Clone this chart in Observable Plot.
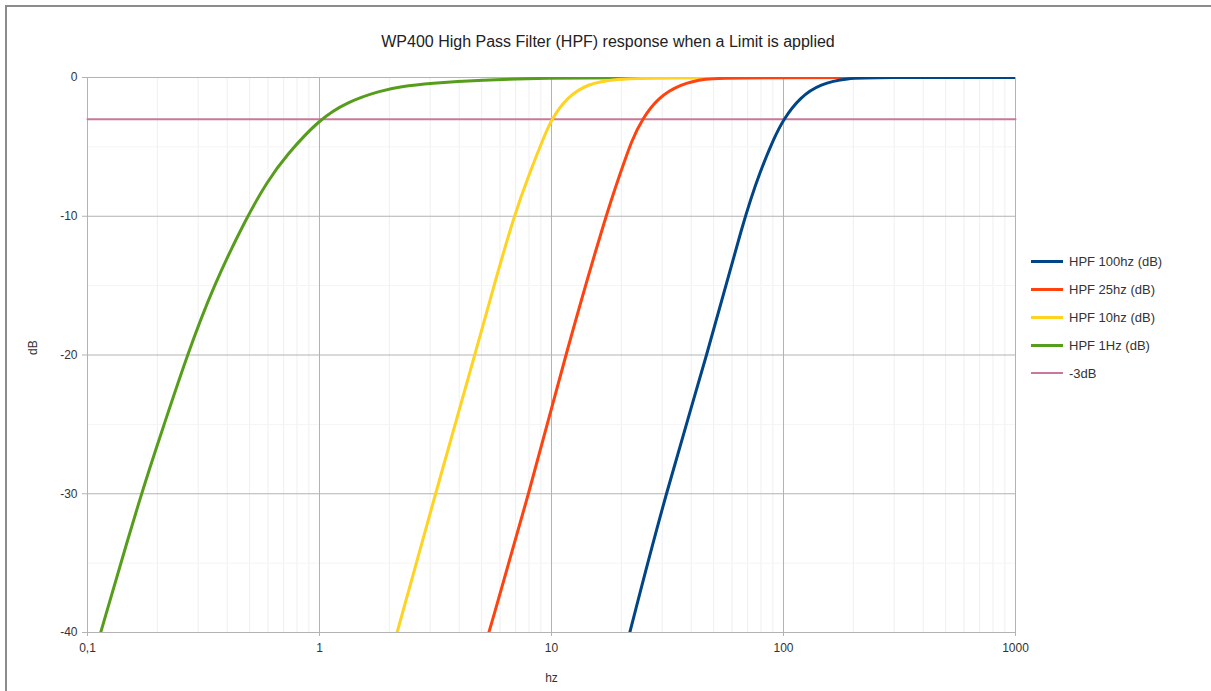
<!DOCTYPE html>
<html>
<head>
<meta charset="utf-8">
<script src="https://cdn.jsdelivr.net/npm/d3@7"></script>
<script src="https://cdn.jsdelivr.net/npm/@observablehq/plot@0.6"></script>
<style>
  html, body { margin: 0; padding: 0; background: #fff; }
  #wrap { position: relative; width: 1211px; height: 691px; overflow: hidden; font-family: "Liberation Sans", Arial, sans-serif; }
  #frameTop { position: absolute; left: 5px; top: 5px; right: 0; height: 0; border-top: 2px solid #8c8c8c; }
  #frameLeft { position: absolute; left: 5px; top: 5px; bottom: 0; width: 0; border-left: 2px solid #8c8c8c; }
  #title { position: absolute; left: 0; width: 1216px; top: 33px; text-align: center; font-size: 16px; color: #222; }
  #legend { position: absolute; left: 1031px; top: 247px; font-size: 13px; color: #333; }
  .item { height: 28px; display: flex; align-items: center; }
  .item .sw { width: 32px; height: 3px; margin-right: 6px; }
  #chart { position: absolute; left: 0; top: 0; }
</style>
</head>
<body>
<div id="wrap">
  <div id="chart"></div>
  <div id="frameTop"></div>
  <div id="frameLeft"></div>
  <div id="title">WP400 High Pass Filter (HPF) response when a Limit is applied</div>
  <div id="legend"></div>
</div>
<script>
// ---- data ----
const seriesNames = ["HPF 100hz (dB)", "HPF 25hz (dB)", "HPF 10hz (dB)", "HPF 1Hz (dB)", "-3dB"];
const seriesColors = ["#004586", "#ff420e", "#ffd320", "#579d1c", "#c8789a"];

const hpf100Freq = [21.75, 31.0, 46.9, 67.9, 79.6, 90.8, 100, 118, 144, 188, 250, 1000];
const hpf100dB   = [-40, -30, -20, -10, -6.7, -4.4, -3, -1.42, -0.46, -0.05, 0, 0];

const hpf25Freq = [5.37, 8.0, 11.48, 17.1, 19.8, 22.2, 24.6, 28.8, 36, 46, 60, 1000];
const hpf25dB   = [-40, -30, -20, -10, -6.9, -4.5, -3, -1.45, -0.48, -0.08, 0, 0];

const hpf10Freq = [2.16, 3.16, 4.67, 5.65, 6.88, 8.12, 9.27, 10, 11.68, 14.3, 18.6, 30, 1000];
const hpf10dB   = [-40, -30, -20, -15, -10, -6.7, -4.3, -3, -1.42, -0.46, -0.1, 0, 0];

const hpf1Freq = [0.114, 0.17, 0.214, 0.269, 0.349, 0.488, 0.595, 0.72, 1.0, 1.32, 1.83, 2.23, 3.0, 4.94, 9.6, 20, 1000];
const hpf1dB   = [-40, -30, -25, -20, -15, -10, -7.5, -5.6, -3, -1.75, -0.95, -0.66, -0.42, -0.17, -0.05, 0, 0];

const limitFreq = [0.1, 1000];
const limitdB   = [-3, -3];

const xTicks = [0.1, 1, 10, 100, 1000];
const xTickLabels = ["0,1", "1", "10", "100", "1000"];
const yTicks = [0, -10, -20, -30, -40];
const yTickLabels = ["0", "-10", "-20", "-30", "-40"];

// ---- build tables ----
const toRows = (fs, ds, name) => fs.map((f, i) => ({f, db: ds[i], name}));
const curves = [
  toRows(hpf100Freq, hpf100dB, seriesNames[0]),
  toRows(hpf25Freq, hpf25dB, seriesNames[1]),
  toRows(hpf10Freq, hpf10dB, seriesNames[2]),
  toRows(hpf1Freq, hpf1dB, seriesNames[3])
];
const limitRows = toRows(limitFreq, limitdB, seriesNames[4]);

const minorX = [];
for (let d = 0.1; d < 1000; d *= 10) for (let k = 2; k <= 9; k++) minorX.push(+(d * k).toPrecision(3));
const minorY = [-5, -15, -25, -35];

const marks = [
  Plot.ruleX(minorX, {stroke: "#efefef", strokeWidth: 1}),
  Plot.ruleY(minorY, {stroke: "#f4f4f4", strokeWidth: 1}),
  Plot.ruleX(xTicks, {stroke: "#b3b3b3", strokeWidth: 1}),
  Plot.ruleY(yTicks, {stroke: "#b3b3b3", strokeWidth: 1}),
  Plot.line(limitRows, {x: "f", y: "db", stroke: seriesColors[4], strokeWidth: 2}),
];
[3, 2, 1, 0].forEach(i => {
  marks.push(Plot.line(curves[i], {x: "f", y: "db", stroke: seriesColors[i], strokeWidth: 3, curve: "basis", clip: true}));
});
marks.push(
  Plot.axisX({ticks: xTicks, tickFormat: d => xTickLabels[xTicks.indexOf(d)], tickSize: 4, tickPadding: 7, fontSize: 12, stroke: "#b3b3b3", color: "#333", label: null}),
  Plot.axisY({ticks: yTicks, tickFormat: d => yTickLabels[yTicks.indexOf(d)], tickSize: 5, tickPadding: 5, fontSize: 12, stroke: "#b3b3b3", color: "#333", label: null}),
  Plot.text(["hz"], {frameAnchor: "bottom", dy: 49, text: d => d, fontSize: 12, fill: "#333"}),
  Plot.text(["dB"], {frameAnchor: "left", dx: -54, rotate: -90, text: d => d, fontSize: 12, fill: "#333"})
);

const chart = Plot.plot({
  width: 1211,
  height: 691,
  marginLeft: 87,
  marginRight: 196,
  marginTop: 77,
  marginBottom: 59,
  style: {fontFamily: "'Liberation Sans', Arial, sans-serif", background: "transparent", overflow: "visible"},
  x: {type: "log", domain: [0.1, 1000]},
  y: {domain: [-40, 0]},
  marks
});
document.getElementById("chart").appendChild(chart);

const legend = document.getElementById("legend");
seriesNames.forEach((n, i) => {
  const it = document.createElement("div");
  it.className = "item";
  const sw = document.createElement("div");
  sw.className = "sw";
  sw.style.background = seriesColors[i];
  if (i === 4) sw.style.height = "2px";
  const tx = document.createElement("span");
  tx.textContent = n;
  it.appendChild(sw); it.appendChild(tx);
  legend.appendChild(it);
});
</script>
</body>
</html>
